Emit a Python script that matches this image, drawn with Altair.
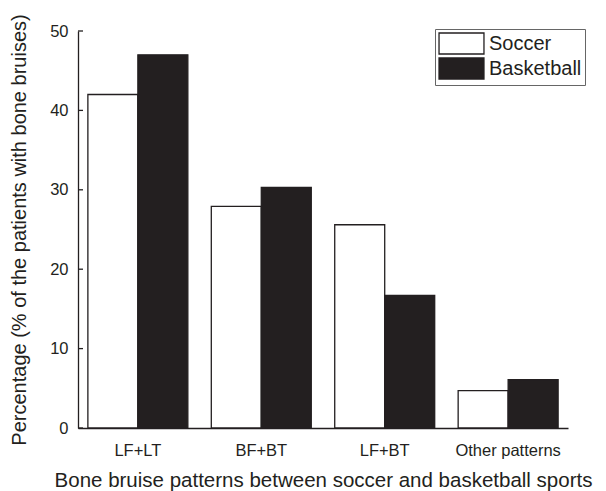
import altair as alt
import pandas as pd

patterns = ["LF+LT", "BF+BT", "LF+BT", "Other patterns"]
sports = ["Soccer", "Basketball"]
soccer = [42.0, 27.9, 25.6, 4.7]
basketball = [47.0, 30.3, 16.7, 6.1]
y_ticks = [0, 10, 20, 30, 40, 50]

rows = []
for p, s, b in zip(patterns, soccer, basketball):
    rows.append({"pattern": p, "sport": "Soccer", "value": s})
    rows.append({"pattern": p, "sport": "Basketball", "value": b})
df = pd.DataFrame(rows)
tick_df = pd.DataFrame({"v": y_ticks})

FONT = "Liberation Sans"
INK = "#231f20"

y_axis = alt.Axis(
    title="Percentage (% of the patients with bone bruises)",
    values=y_ticks,
    ticks=False,
    tickSize=0,
    labelPadding=10,
    titlePadding=20,
    grid=False,
)
y_scale = alt.Scale(domain=[0, 50], nice=False, zero=True)

bars = alt.Chart(df).mark_bar(stroke=INK, strokeWidth=1.3).encode(
    x=alt.X(
        "pattern:N",
        sort=patterns,
        scale=alt.Scale(paddingInner=0.19, paddingOuter=0.08),
        axis=alt.Axis(
            title="Bone bruise patterns between soccer and basketball sports",
            labelAngle=0,
            ticks=False,
            tickSize=0,
            labelPadding=14,
            titlePadding=12,
            titleFontSize=20.5,
        ),
    ),
    xOffset=alt.XOffset("sport:N", sort=sports,
                        scale=alt.Scale(paddingInner=0, paddingOuter=0)),
    y=alt.Y("value:Q", scale=y_scale, axis=y_axis),
    fill=alt.Fill(
        "sport:N",
        sort=sports,
        scale=alt.Scale(domain=sports, range=["#ffffff", INK]),
        legend=alt.Legend(
            title=None,
            orient="none",
            legendX=357,
            legendY=-2,
            symbolType="M-2.14,-1H2.14V1H-2.14Z",
            symbolSize=441,
            symbolOffset=12,
            symbolStrokeColor=INK,
            symbolStrokeWidth=1.3,
            labelOffset=16,
            labelFont=FONT,
            labelFontSize=20,
            labelColor=INK,
            strokeColor="#666666",
            padding=3,
            rowPadding=-2,
        ),
    ),
)

tick_marks = alt.Chart(tick_df).mark_rule(color=INK, strokeWidth=1.3).encode(
    y=alt.Y("v:Q", scale=y_scale, axis=y_axis),
    x=alt.value(0),
    x2=alt.value(5),
)

chart = alt.layer(bars, tick_marks).properties(
    width=490,
    height=397,
    autosize=alt.AutoSizeParams(type="none"),
    padding={"left": 70, "top": 23, "right": 30, "bottom": 63},
).configure_view(stroke=None).configure_axis(
    domainColor=INK,
    domainWidth=1.3,
    labelColor=INK,
    titleColor=INK,
    labelFont=FONT,
    titleFont=FONT,
    labelFontSize=16.5,
    titleFontSize=20,
    titleFontWeight="normal",
)

chart.save("out.html", embed_options={"renderer": "svg", "actions": False})
